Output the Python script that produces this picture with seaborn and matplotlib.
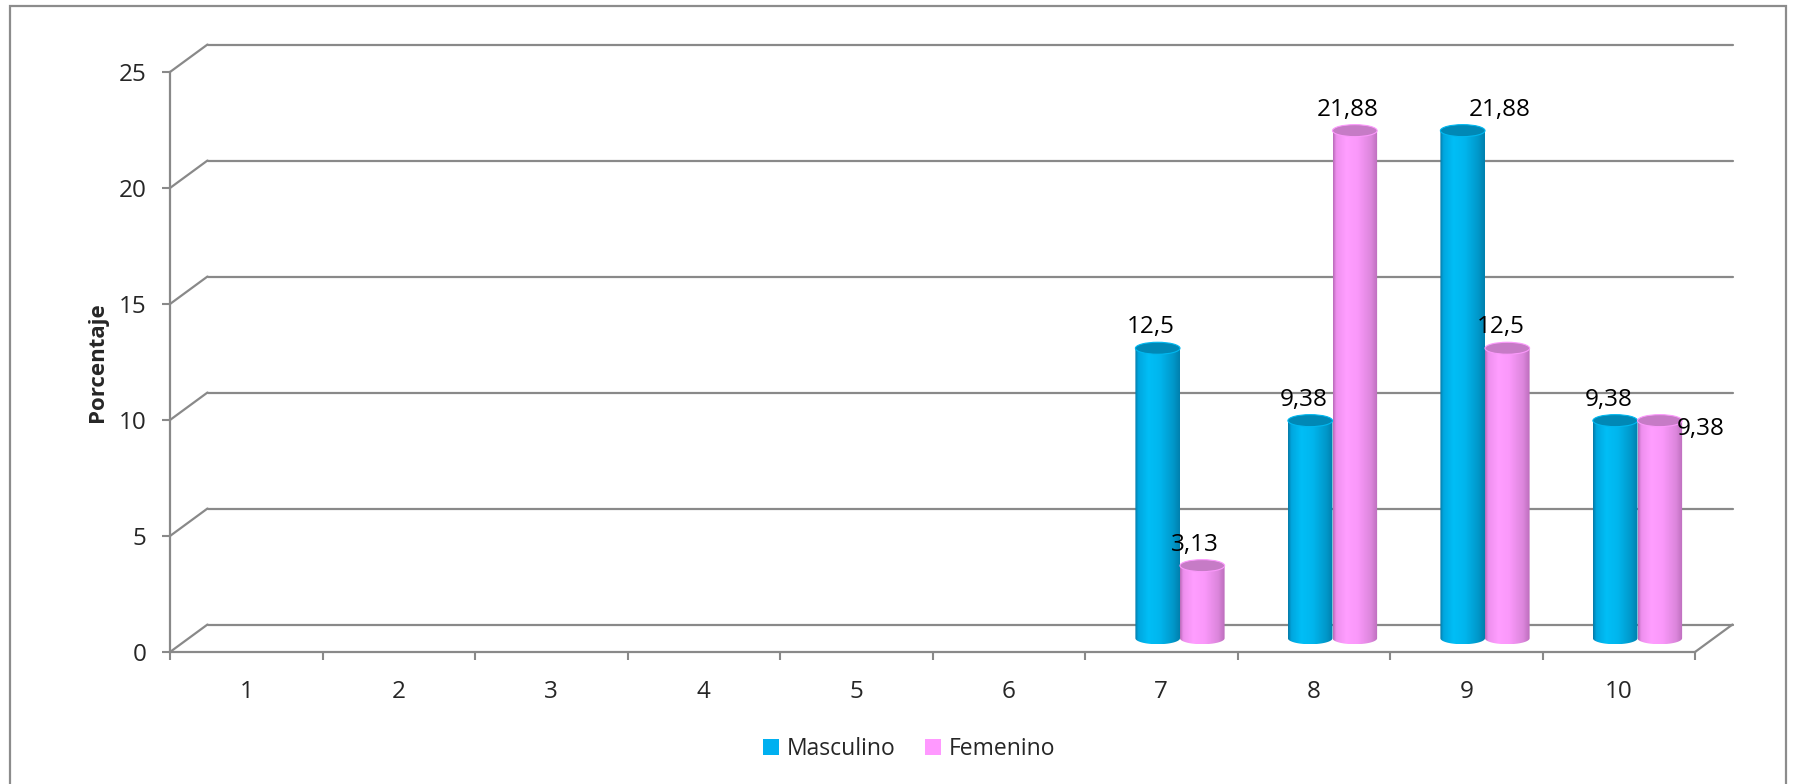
import numpy as np
import pandas as pd
import matplotlib
matplotlib.use("Agg")
import matplotlib.pyplot as plt
import seaborn as sns
from matplotlib import transforms
from matplotlib.patches import Ellipse, Rectangle, PathPatch, Patch
from matplotlib.path import Path
from matplotlib.colors import LinearSegmentedColormap

# ---------------- data ----------------
categories = ["1", "2", "3", "4", "5", "6", "7", "8", "9", "10"]
masculino = [0, 0, 0, 0, 0, 0, 12.5, 9.38, 21.88, 9.38]
femenino = [0, 0, 0, 0, 0, 0, 3.13, 21.88, 12.5, 9.38]
series_names = ["Masculino", "Femenino"]
y_ticks = [0, 5, 10, 15, 20, 25]
y_label = "Porcentaje"

# ---------------- style ----------------
sns.set_theme(style="white")
plt.rcParams["font.family"] = ["Open Sans", "DejaVu Sans"]

W, H, DPI = 1793, 784, 100
GRID = "#898989"
base_colors = {"Masculino": "#00B0F0", "Femenino": "#FF99FF"}
cap_colors = {"Masculino": "#0088B6", "Femenino": "#C67BC6"}
grad = {
    "Masculino": LinearSegmentedColormap.from_list("m", [
        (0.0, "#0678A6"), (0.07, "#00A6DE"), (0.3, "#00BEF6"),
        (0.55, "#00B6EE"), (0.85, "#0098CA"), (1.0, "#0080AE")]),
    "Femenino": LinearSegmentedColormap.from_list("f", [
        (0.0, "#B86AB8"), (0.07, "#EE8FEE"), (0.3, "#FF9EFF"),
        (0.55, "#FA98FA"), (0.85, "#DC86DC"), (1.0, "#BC6EBC")]),
}

fig = plt.figure(figsize=(W / DPI, H / DPI), dpi=DPI)
ax_left, ax_right, ax_top, ax_bot = 170, 1695, 72, 652
ax = fig.add_axes([ax_left / W, 1 - ax_bot / H, (ax_right - ax_left) / W, (ax_bot - ax_top) / H])
ax.set_facecolor("none")

df = pd.DataFrame({
    "Nota": categories * 2,
    "Porcentaje": masculino + femenino,
    "Sexo": [series_names[0]] * len(categories) + [series_names[1]] * len(categories),
})
sns.barplot(data=df, x="Nota", y="Porcentaje", hue="Sexo", hue_order=series_names,
            palette=base_colors, width=0.585, gap=0, saturation=1, legend=False,
            errorbar=None, ax=ax, zorder=3)

ax.set_xlim(-0.5, len(categories) - 0.5)
ax.set_ylim(y_ticks[0], y_ticks[-1])

# pseudo-3D depth (pixels)
DX, DY = 37.5, 27.5
px_per_x = (ax_right - ax_left) / len(categories)
px_per_y = (ax_bot - ax_top) / (y_ticks[-1] - y_ticks[0])
dxd, dyd = DX / px_per_x, DY / px_per_y
back_tr = ax.transData + transforms.Affine2D().translate(DX, DY)
mid_tr = ax.transData + transforms.Affine2D().translate(DX / 2, DY / 2)

# back walls / gridlines
xmin, xmax = ax.get_xlim()
for y in y_ticks:
    ax.plot([xmin, xmax], [y, y], transform=back_tr, color=GRID, lw=1.6, clip_on=False, zorder=1)
    ax.plot([xmin, xmin + dxd], [y, y + dyd], color=GRID, lw=1.6, clip_on=False, zorder=1)
ax.plot([xmax, xmax + dxd], [0, dyd], color=GRID, lw=1.6, clip_on=False, zorder=1)

# cylinders
eh = 12 / px_per_y
bars = list(ax.patches)
n = len(categories)
for i, p in enumerate(bars):
    name = series_names[i // n]
    h = p.get_height()
    p.set_visible(False)
    if h <= 0:
        continue
    x0, w = p.get_x(), p.get_width()
    cx = x0 + w / 2
    t = np.linspace(np.pi, 2 * np.pi, 40)
    verts = [(x0, h), (x0, 0)] + list(zip(cx + w / 2 * np.cos(t), eh / 2 * np.sin(t))) + [(x0 + w, h), (x0, h)]
    codes = [Path.MOVETO] + [Path.LINETO] * (len(verts) - 2) + [Path.CLOSEPOLY]
    clip = PathPatch(Path(verts, codes), transform=mid_tr, facecolor="none", edgecolor="none")
    ax.add_patch(clip)
    g = np.linspace(0, 1, 200).reshape(1, -1)
    im = ax.imshow(g, cmap=grad[name], extent=(x0, x0 + w, -eh / 2, h), aspect="auto",
                   interpolation="bicubic", zorder=3)
    im.set_transform(mid_tr)
    im.set_clip_path(clip)
    cap = Ellipse((cx, h), w, eh, angle=0, transform=mid_tr, facecolor=cap_colors[name],
                  edgecolor=grad[name](0.5), lw=0.8, zorder=4, clip_on=False)
    ax.add_patch(cap)

ax.set_xlim(xmin, xmax)
ax.set_ylim(y_ticks[0], y_ticks[-1])

# data labels
lbl_off = {(0, 8): (37, -21), (1, 9): (41, 8)}
for s, vals in enumerate([masculino, femenino]):
    for j, v in enumerate(vals):
        if v <= 0:
            continue
        p = bars[s * n + j]
        cx = p.get_x() + p.get_width() / 2
        ox, oy = lbl_off.get((s, j), (-7, -21))
        txt = f"{v:g}".replace(".", ",")
        ax.annotate(txt, xy=(cx, v), xycoords=mid_tr, xytext=(ox, -oy),
                    textcoords="offset pixels", ha="center", va="center",
                    fontsize=17.5, color="black", zorder=6, annotation_clip=False)

# axes styling
for sp in ["top", "right"]:
    ax.spines[sp].set_visible(False)
for sp in ["left", "bottom"]:
    ax.spines[sp].set_color(GRID)
    ax.spines[sp].set_linewidth(1.6)
    ax.spines[sp].set_zorder(2)
ax.set_yticks(y_ticks)
ax.set_yticklabels([str(v) for v in y_ticks])
ax.set_xticks(range(n))
ax.set_xticklabels(categories)
ax.set_xticks(np.arange(-0.5, n, 1), minor=True)
ax.tick_params(axis="y", which="major", length=6, width=1.5, color=GRID, pad=11,
               labelsize=17.5, left=True, direction="out")
ax.tick_params(axis="x", which="major", length=0, pad=20, labelsize=17.5)
ax.tick_params(axis="x", which="minor", length=6, width=1.5, color=GRID, bottom=True, direction="out")
ax.set_xlabel("")
ax.set_ylabel(y_label, fontsize=16, fontweight="bold")
ax.yaxis.set_label_coords((108 - ax_left) / (ax_right - ax_left), 0.5)

# legend
handles = [Patch(facecolor=base_colors[s], edgecolor="none") for s in series_names]
fig.legend(handles, series_names, loc="center", bbox_to_anchor=(909 / W, 1 - 749 / H),
           ncol=2, frameon=False, fontsize=16.5, handlelength=0.7, handleheight=0.7,
           handletextpad=0.33, columnspacing=1.3)

# outer border
fig.add_artist(Rectangle((10 / W, -0.05), (1786 - 10) / W, 1.05 - 6 / H, transform=fig.transFigure,
                         fill=False, edgecolor="#8C8C8C", lw=1.6))

fig.savefig("out.png", dpi=DPI)
